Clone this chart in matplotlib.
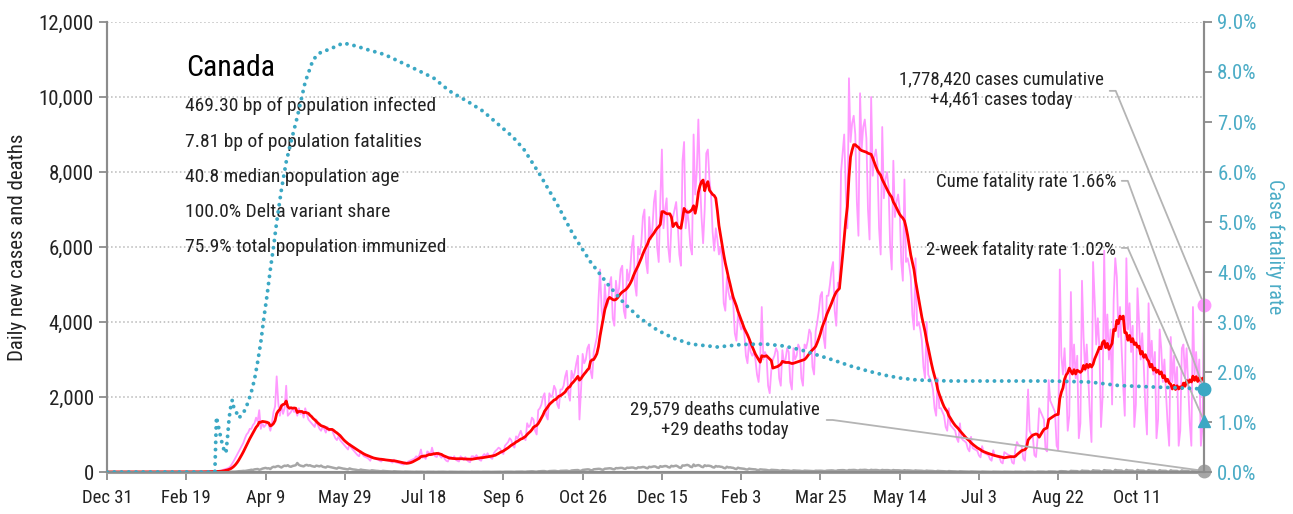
import pandas as pd
import matplotlib
matplotlib.use("Agg")
import matplotlib.pyplot as plt
import matplotlib.ticker as mticker
import matplotlib.dates as mdates
from matplotlib import font_manager as fm

# pick a narrow sans face if one is installed
narrow = [f for f in fm.fontManager.ttflist
          if any(k in f.fname.lower() for k in ("narrow", "condensed", "cond"))
          and f.style == "normal" and f.weight in (400, "normal", "regular")]
if narrow:
    pick = sorted(narrow, key=lambda f: ("Roboto" not in f.name,
                                         "Liberation" not in f.name,
                                         "DejaVu" not in f.name))[0]
    plt.rcParams['font.family'] = [pick.name, 'DejaVu Sans']
    plt.rcParams['font.stretch'] = pick.stretch
else:
    plt.rcParams['font.family'] = ['Roboto', 'DejaVu Sans']

# --- data -------------------------------------------------------------
start_date = "2019-12-31"

# daily new cases, one row per week (Tue..Mon)
daily_cases = [
    0, 0, 0, 0, 0, 0, 0,
    0, 0, 0, 0, 0, 0, 0,
    0, 0, 0, 0, 0, 0, 0,
    0, 0, 0, 0, 1, 0, 0,
    1, 0, 0, 1, 0, 0, 0,
    0, 0, 0, 1, 0, 0, 0,
    0, 0, 0, 0, 0, 1, 0,
    0, 0, 1, 0, 2, 0, 1,
    2, 3, 4, 5, 3, 6, 8,
    9, 12, 10, 14, 12, 15, 18,
    22, 30, 38, 55, 70, 85, 95,
    120, 160, 230, 300, 380, 460, 540,
    620, 700, 780, 900, 1000, 1050, 1150,
    1150, 1250, 1300, 1450, 1350, 1650, 1150,
    1300, 1200, 1250, 1350, 1250, 1100, 1300,
    1600, 1750, 2550, 1850, 1500, 1800, 1550,
    1700, 2300, 1500, 1550, 1600, 1700, 1600,
    1650, 1500, 1700, 1550, 1600, 1450, 1700,
    1550, 1400, 1350, 1300, 1250, 1200, 1400,
    1250, 1150, 1100, 1200, 1150, 1050, 1200,
    1100, 1150, 1100, 1000, 900, 850, 950,
    850, 800, 750, 700, 650, 600, 750,
    650, 600, 550, 500, 450, 420, 560,
    480, 420, 400, 380, 350, 300, 400,
    380, 350, 340, 330, 300, 280, 350,
    330, 320, 310, 300, 280, 250, 330,
    260, 250, 240, 230, 210, 200, 260,
    230, 280, 300, 320, 340, 360, 420,
    380, 450, 600, 380, 400, 350, 550,
    520, 450, 650, 480, 420, 400, 520,
    430, 380, 450, 350, 300, 280, 400,
    400, 350, 420, 330, 300, 280, 420,
    380, 320, 400, 320, 280, 260, 420,
    420, 380, 450, 380, 320, 300, 430,
    480, 420, 500, 430, 380, 350, 500,
    560, 600, 650, 620, 520, 480, 700,
    750, 800, 900, 850, 700, 650, 950,
    900, 1000, 1100, 950, 900, 850, 1300,
    1200, 1250, 1450, 1400, 1100, 1000, 1650,
    1700, 1800, 2000, 2100, 1500, 1400, 2100,
    2000, 2050, 2300, 2200, 1800, 1700, 2200,
    2200, 2300, 2550, 2700, 2100, 1900, 2700,
    2500, 2650, 2900, 3100, 1400, 2200, 3150,
    2900, 3000, 3300, 3400, 2700, 2500, 3200,
    3400, 3600, 4600, 5400, 4300, 4000, 5000,
    4400, 4500, 5000, 5200, 4100, 3900, 5100,
    4700, 4900, 5400, 5500, 4300, 4100, 5400,
    5100, 5400, 6000, 6300, 5000, 4700, 6000,
    5800, 6100, 6800, 7000, 5600, 5300, 6800,
    6200, 6500, 7200, 7500, 6000, 5600, 7200,
    8600, 6500, 7000, 7300, 6000, 5600, 6600,
    6800, 7000, 7200, 6600, 5800, 5500, 8300,
    8800, 6500, 7000, 6600, 6000, 5800, 9000,
    7400, 8000, 9400, 7800, 6800, 6100, 7000,
    8500, 8600, 7800, 7400, 6400, 5900, 6500,
    6200, 5800, 6000, 5700, 4500, 4300, 5200,
    4800, 4600, 4700, 4500, 3700, 3500, 4200,
    4000, 3800, 3900, 3700, 3100, 2900, 3500,
    3200, 3100, 3200, 3000, 2600, 2400, 3000,
    4400, 3000, 3200, 3100, 2300, 2100, 2700,
    3000, 3100, 3300, 3200, 2500, 2300, 3250,
    2900, 3000, 3300, 3200, 2400, 2200, 3300,
    3000, 3100, 3400, 3300, 2500, 2300, 3400,
    3300, 3500, 3800, 3700, 2800, 2600, 3750,
    4000, 4300, 4700, 4800, 3600, 3300, 4700,
    4700, 5000, 5400, 5600, 4300, 3900, 5050,
    5000, 8000, 8500, 9000, 7500, 6500, 10500,
    8800, 9300, 9500, 9000, 7200, 6300, 10100,
    8600, 9200, 9400, 8900, 7000, 6200, 10000,
    7900, 8400, 8600, 8200, 6500, 5800, 9200,
    7300, 7800, 8000, 7600, 6000, 5400, 8300,
    6800, 7200, 7400, 7000, 5600, 5100, 7800,
    5600, 5700, 5500, 5200, 4200, 3800, 5700,
    3900, 4000, 3800, 3500, 2800, 2500, 4000,
    2600, 2500, 2400, 2200, 1700, 1500, 2500,
    1700, 1700, 1600, 1500, 1200, 1100, 1700,
    1250, 1200, 1150, 1100, 900, 800, 1300,
    900, 850, 820, 780, 620, 550, 940,
    640, 610, 590, 560, 440, 390, 690,
    520, 490, 470, 450, 340, 300, 580,
    440, 420, 400, 380, 260, 230, 530,
    500, 470, 450, 430, 250, 220, 620,
    800, 720, 700, 680, 350, 300, 1000,
    2200, 1100, 1000, 950, 450, 400, 900,
    1700, 1600, 1500, 1400, 600, 550, 2450,
    1900, 1800, 1700, 1600, 700, 600, 5400,
    3100, 2600, 3300, 2400, 1100, 1500, 4800,
    2600, 3400, 2500, 3100, 900, 1300, 5100,
    3600, 2700, 3400, 2500, 1500, 800, 5600,
    4600, 3400, 4100, 3300, 1200, 2000, 5900,
    3300, 4200, 3000, 3800, 1800, 4600, 5700,
    5200, 3600, 4400, 3300, 2300, 1500, 5700,
    3800, 4500, 3200, 3900, 1200, 1800, 4900,
    4000, 3000, 3700, 2800, 1700, 1000, 4500,
    2900, 3500, 2600, 3200, 900, 1400, 3800,
    3300, 2400, 3000, 2100, 1300, 700, 3600,
    2400, 3100, 2200, 2800, 700, 1100, 3300,
    3400, 2500, 3300, 2300, 1300, 700, 4400,
    2600, 3200, 2400, 3000, 700, 1200, 4461,
]

# daily new deaths, same weekly layout
daily_deaths = [0] * 63 + [
    0, 0, 0, 0, 0, 0, 1,
    0, 1, 0, 1, 1, 2, 3,
    3, 5, 6, 8, 10, 15, 20,
    22, 25, 30, 28, 35, 40, 50,
    60, 55, 70, 75, 80, 60, 70,
    90, 100, 110, 95, 100, 80, 120,
    140, 130, 150, 160, 140, 120, 150,
    170, 160, 180, 150, 140, 160, 170,
    180, 240, 190, 170, 160, 150, 180,
    190, 170, 180, 160, 150, 140, 170,
    160, 150, 170, 140, 130, 120, 150,
    140, 130, 120, 110, 100, 90, 120,
    110, 100, 90, 85, 75, 70, 95,
    80, 70, 65, 60, 50, 45, 65,
    55, 50, 45, 40, 35, 30, 45,
    40, 35, 30, 28, 22, 20, 30,
    25, 22, 20, 18, 15, 12, 20,
    16, 14, 12, 10, 8, 7, 12,
    10, 9, 8, 7, 5, 4, 8,
    7, 6, 8, 5, 4, 3, 7,
    6, 7, 5, 6, 3, 3, 6,
    5, 6, 7, 5, 3, 2, 6,
    6, 5, 6, 4, 3, 2, 5,
    5, 6, 5, 4, 3, 2, 6,
    4, 5, 6, 5, 3, 2, 5,
    5, 4, 6, 5, 2, 3, 6,
    6, 5, 7, 6, 3, 3, 7,
    7, 8, 6, 7, 4, 3, 8,
    9, 10, 12, 10, 6, 5, 12,
    14, 15, 18, 16, 10, 8, 17,
    20, 22, 25, 24, 15, 12, 24,
    26, 28, 30, 28, 20, 18, 30,
    32, 35, 38, 36, 25, 22, 40,
    45, 48, 50, 52, 35, 30, 55,
    60, 65, 70, 68, 50, 45, 72,
    75, 80, 85, 82, 65, 60, 88,
    90, 95, 100, 95, 78, 72, 105,
    100, 105, 110, 108, 90, 85, 115,
    110, 115, 120, 118, 100, 95, 125,
    120, 125, 135, 130, 110, 100, 140,
    130, 140, 150, 145, 120, 110, 155,
    140, 150, 160, 155, 130, 120, 165,
    150, 160, 170, 150, 120, 110, 175,
    170, 180, 190, 175, 140, 130, 200,
    160, 175, 185, 170, 140, 130, 180,
    160, 170, 165, 155, 130, 120, 160,
    145, 150, 140, 135, 110, 100, 140,
    120, 125, 115, 110, 90, 80, 115,
    100, 95, 90, 85, 70, 65, 90,
    80, 75, 72, 70, 55, 50, 70,
    65, 62, 60, 55, 45, 40, 58,
    55, 52, 50, 48, 38, 35, 50,
    45, 42, 40, 38, 30, 28, 42,
    38, 36, 35, 33, 26, 24, 36,
    34, 32, 32, 30, 24, 22, 34,
    32, 33, 34, 32, 26, 24, 36,
    38, 40, 42, 40, 32, 30, 44,
    45, 48, 50, 48, 38, 35, 52,
    50, 52, 55, 52, 42, 40, 56,
    52, 55, 58, 54, 44, 42, 58,
    50, 52, 54, 50, 42, 40, 55,
    48, 50, 50, 48, 40, 38, 52,
    45, 46, 45, 42, 36, 34, 48,
    40, 42, 40, 38, 32, 30, 42,
    36, 35, 34, 32, 26, 24, 36,
    30, 30, 28, 26, 20, 18, 30,
    25, 24, 22, 20, 16, 14, 24,
    20, 18, 18, 16, 12, 10, 18,
    15, 14, 13, 12, 9, 8, 14,
    12, 11, 10, 9, 6, 5, 11,
    10, 9, 8, 8, 4, 3, 9,
    8, 8, 7, 6, 3, 3, 8,
    7, 6, 6, 5, 2, 2, 8,
    6, 7, 6, 5, 2, 2, 8,
    8, 7, 7, 6, 2, 2, 10,
    10, 10, 9, 8, 3, 3, 14,
    14, 13, 12, 11, 4, 4, 20,
    22, 20, 18, 16, 6, 6, 30,
    26, 25, 24, 22, 8, 7, 38,
    30, 30, 28, 26, 10, 9, 45,
    36, 35, 34, 32, 12, 10, 50,
    40, 38, 37, 35, 14, 12, 55,
    42, 40, 40, 38, 15, 13, 56,
    40, 38, 38, 36, 14, 12, 54,
    38, 36, 36, 34, 13, 12, 50,
    36, 34, 34, 32, 12, 11, 48,
    33, 32, 32, 30, 11, 10, 45,
    30, 30, 29, 28, 10, 9, 42,
    30, 29, 28, 27, 10, 9, 40,
    29, 28, 27, 26, 9, 8, 29,
]

# cumulative case fatality rate (%) by day since start
cfr_day = [0, 68, 69, 70, 71, 72, 73, 74, 75, 76, 77, 78, 79, 80, 81, 83,
           85, 87, 89, 91, 93, 95, 97, 99, 101, 103, 105, 107, 110, 113,
           116, 120, 125, 130, 135, 140, 149, 157, 164, 175, 185, 195, 206,
           216, 228, 237, 248, 256, 263, 273, 284, 294, 305, 316, 326, 336,
           347, 357, 368, 385, 400, 415, 427, 438, 448, 458, 469, 480, 490,
           500, 511, 521, 532, 560, 595, 620, 638, 660, 679, 692]
cfr_pct = [0, 0, 1.1, 0.95, 0.8, 0.65, 0.52, 0.42, 0.38, 0.7, 1.08, 1.3,
           1.44, 1.28, 1.24, 1.08, 1.14, 1.24, 1.4, 1.6, 1.85, 2.2, 2.6,
           3.1, 3.55, 4.05, 4.5, 5.0, 5.65, 6.2, 6.6, 7.1, 7.8, 8.25, 8.4,
           8.45, 8.58, 8.52, 8.45, 8.35, 8.2, 8.05, 7.88, 7.62, 7.4, 7.22,
           6.92, 6.7, 6.45, 5.95, 5.35, 4.75, 4.2, 3.75, 3.38, 3.08, 2.84,
           2.68, 2.56, 2.5, 2.55, 2.56, 2.52, 2.44, 2.34, 2.24, 2.12, 2.02,
           1.94, 1.88, 1.84, 1.83, 1.82, 1.82, 1.82, 1.8, 1.73, 1.7, 1.68,
           1.66]

country = "Canada"
facts = ["469.30 bp of population infected",
         "7.81 bp of population fatalities",
         "40.8 median population age",
         "100.0% Delta variant share",
         "75.9% total population immunized"]
total_cases = 1778420
total_deaths = 29579
cume_cfr = 1.66
two_week_cfr = 1.02

# --- styles -----------------------------------------------------------
PINK = "#ff99ff"
RED = "#ff0000"
GREY = "#a6a6a6"
TEAL = "#3ba8c4"
TEAL_TXT = "#4bacc6"
SPINE = "#8c8c8c"
LEADER = "#b4b4b4"

dates = pd.date_range(start_date, periods=len(daily_cases), freq="D")
s_cases = pd.Series(daily_cases, index=dates)
s_deaths = pd.Series(daily_deaths, index=dates)
avg7 = s_cases.rolling(7, min_periods=1).mean()
cfr_dates = pd.to_datetime(start_date) + pd.to_timedelta(cfr_day, unit="D")
last = dates[-1]

fig = plt.figure(figsize=(12.93, 5.14), dpi=100)
ax = fig.add_axes([0.0828, 0.0817, 0.8484, 0.8755])
ax2 = ax.twinx()

ax.plot(dates, s_cases.values, color=PINK, lw=1.3, zorder=2)
ax.plot(dates, s_deaths.values, color=GREY, lw=1.8, zorder=2)
ax.plot(dates, avg7.values, color=RED, lw=2.0, zorder=3)
ax.plot([last], [daily_cases[-1]], "o", color=PINK, ms=9, clip_on=False, zorder=5)
ax.plot([last], [daily_deaths[-1]], "o", color=GREY, ms=9, clip_on=False, zorder=5)

ax2.plot(cfr_dates, cfr_pct, color=TEAL, lw=2.8, linestyle=(0, (0.01, 1.85)),
         dash_capstyle="round", zorder=4)
ax2.plot([last], [cume_cfr], "o", color=TEAL, ms=9, clip_on=False, zorder=5)
ax2.plot([last], [two_week_cfr], "^", color=TEAL, ms=9, clip_on=False, zorder=5)

# axes ranges and ticks
ax.set_xlim(dates[0], last)
ax.set_ylim(0, 12000)
ax2.set_ylim(0, 9)
ax.set_yticks(range(0, 12001, 2000))
ax2.set_yticks(range(0, 10))
ax.yaxis.set_major_formatter(mticker.FuncFormatter(lambda v, p: f"{int(v):,}"))
ax2.yaxis.set_major_formatter(mticker.FuncFormatter(lambda v, p: f"{v:.1f}%"))
ax.set_xticks(pd.date_range(start_date, periods=14, freq="50D"))
ax.xaxis.set_major_formatter(mticker.FuncFormatter(
    lambda v, p: f"{mdates.num2date(v):%b} {mdates.num2date(v).day}"))

ax.grid(axis="y", linestyle=":", color="#b8b8b8", lw=1.1)
ax.set_axisbelow(True)

for a in (ax, ax2):
    a.spines["top"].set_visible(False)
    for side in ("left", "right", "bottom"):
        a.spines[side].set_color(SPINE)
        a.spines[side].set_linewidth(1.5)
ax.spines["bottom"].set_linewidth(2.2)
ax.spines["bottom"].set_color("#a0a0a0")

ax.tick_params(axis="both", colors=SPINE, labelcolor="#222222", length=6, width=1.3)
ax.tick_params(axis="y", labelsize=15)
ax.tick_params(axis="x", labelsize=13.5, pad=6)
ax2.tick_params(axis="y", colors=SPINE, labelcolor=TEAL_TXT, labelsize=15,
                length=6, width=1.3)

ax.set_ylabel("Daily new cases and deaths", fontsize=15, color="#222222", labelpad=8)
ax2.set_ylabel("Case fatality rate", fontsize=14.5, color=TEAL_TXT, rotation=270,
               labelpad=20)

# headline block
ax2.text(0.072, 0.898, country, transform=ax2.transAxes, fontsize=21.5,
         va="center", ha="left", color="black")
for i, line in enumerate(facts):
    ax2.text(0.071, 0.813 - i * 0.0785, line, transform=ax2.transAxes,
             fontsize=14, va="center", ha="left", color="#222222")

# right-hand annotations with leader lines
txt_kw = dict(transform=ax2.transAxes, fontsize=13.5, color="#222222")
ax2.text(0.815, 0.849,
         f"{total_cases:,} cases cumulative\n+{daily_cases[-1]:,} cases today",
         ha="center", va="center", linespacing=1.2, **txt_kw)
ax2.text(0.920, 0.644, f"Cume fatality rate {cume_cfr:.2f}%",
         ha="right", va="center", **txt_kw)
ax2.text(0.920, 0.493, f"2-week fatality rate {two_week_cfr:.2f}%",
         ha="right", va="center", **txt_kw)
ax2.text(0.563, 0.1156,
         f"{total_deaths:,} deaths cumulative\n+{daily_deaths[-1]:,} deaths today",
         ha="center", va="center", linespacing=1.2, **txt_kw)

leader = dict(arrowstyle="-", color=LEADER, lw=1.3, shrinkA=0, shrinkB=0,
              connectionstyle="arc,angleA=0,armA=6,angleB=0,armB=0,rad=0")
ax.annotate("", xy=(last, daily_cases[-1]), xycoords="data",
            xytext=(0.914, 0.847), textcoords="axes fraction",
            arrowprops=leader, annotation_clip=False)
ax2.annotate("", xy=(last, cume_cfr), xycoords="data",
             xytext=(0.925, 0.647), textcoords="axes fraction",
             arrowprops=leader, annotation_clip=False)
ax2.annotate("", xy=(last, two_week_cfr), xycoords="data",
             xytext=(0.925, 0.498), textcoords="axes fraction",
             arrowprops=leader, annotation_clip=False)
ax.annotate("", xy=(last, daily_deaths[-1]), xycoords="data",
            xytext=(0.656, 0.1156), textcoords="axes fraction",
            arrowprops=leader, annotation_clip=False)

fig.savefig("out.png", dpi=100)
